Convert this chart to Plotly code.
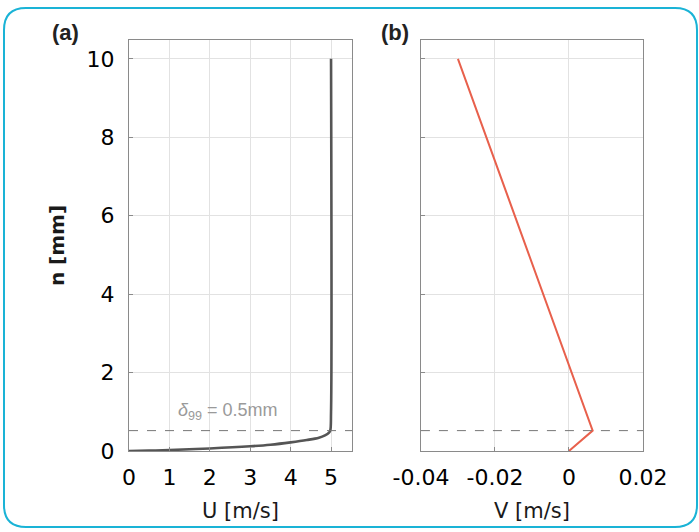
import plotly.graph_objects as go
from plotly.subplots import make_subplots

# ---- data ----
u_vals = [0, 0.5, 1.0, 2.0, 3.0, 3.5, 4.0, 4.4, 4.7, 4.85, 4.95, 4.98, 5.0, 5.0]
u_n = [0, 0.01, 0.025, 0.065, 0.12, 0.16, 0.22, 0.28, 0.34, 0.40, 0.47, 0.52, 1.0, 10.0]

v_vals = [0.0, 0.0064, -0.030]
v_n = [0.0, 0.52, 10.0]

delta99 = 0.52
u_ticks = [0, 1, 2, 3, 4, 5]
v_ticks = [-0.04, -0.02, 0, 0.02]
v_tick_labels = ["-0.04", "-0.02", "0", "0.02"]
n_ticks = [0, 2, 4, 6, 8, 10]

W, H = 699, 532
ML, MR, MT, MB = 129, 56, 40, 81

fig = make_subplots(rows=1, cols=2, shared_yaxes=True, horizontal_spacing=0.134,
                    column_widths=[0.4339, 0.432])

fig.add_trace(go.Scatter(x=u_vals, y=u_n, mode="lines", line=dict(color="#555555", width=2.6),
                         line_shape="spline", showlegend=False), row=1, col=1)
fig.add_trace(go.Scatter(x=v_vals, y=v_n, mode="lines", line=dict(color="#e8604c", width=2),
                         showlegend=False), row=1, col=2)

FONT = "DejaVu Sans, Arial, sans-serif"
tickfont = dict(family=FONT, size=22, color="#000000")
titlefont = dict(family=FONT, size=21, color="#1a1a1a")
axcommon = dict(showline=True, linecolor="#8a8a8a", linewidth=1.2, mirror=True,
                showgrid=True, gridcolor="#e2e2e2", gridwidth=1, zeroline=False,
                ticks="inside", ticklen=4, tickcolor="#8a8a8a", tickfont=tickfont)

fig.update_xaxes(axcommon)
fig.update_yaxes(axcommon)
fig.update_xaxes(range=[0, 5.52], tickvals=u_ticks, ticklabelstandoff=6,
                 title=dict(text="U [m/s]", font=titlefont, standoff=14), row=1, col=1)
fig.update_xaxes(range=[-0.04, 0.02], tickvals=v_ticks, ticktext=v_tick_labels, ticklabelstandoff=6,
                 title=dict(text="V [m/s]", font=titlefont, standoff=14), row=1, col=2)
fig.update_yaxes(range=[0, 10.48], tickvals=n_ticks, ticklabelstandoff=9,
                 title=dict(text="<b>n [mm]</b>", font=dict(family=FONT, size=20, color="#1a1a1a"),
                            standoff=16),
                 row=1, col=1)
fig.update_yaxes(range=[0, 10.48], tickvals=n_ticks, showticklabels=False, row=1, col=2)

# dashed delta99 lines
for xr in ["x domain", "x2 domain"]:
    fig.add_shape(type="line", xref=xr, yref="y", x0=0, x1=1, y0=delta99, y1=delta99,
                  line=dict(color="#777777", width=1, dash="dash"))

fig.add_annotation(x=2.45, y=1.0, xref="x", yref="y", text="<i>δ</i><sub>99</sub> = 0.5mm",
                   showarrow=False, font=dict(family="Liberation Sans, Arial, sans-serif",
                                              size=18, color="#9a9a9a"))

# panel labels
pw = W - ML - MR
ph = H - MT - MB
def px2paper(px, py):
    return (px - ML) / pw, (H - MB - py) / ph

ax_, ay_ = px2paper(65, 33)
bx_, by_ = px2paper(395, 33)
for lbl, (xx, yy) in [("(a)", (ax_, ay_)), ("(b)", (bx_, by_))]:
    fig.add_annotation(x=xx, y=yy, xref="paper", yref="paper", text="<b>" + lbl + "</b>",
                       xanchor="center", yanchor="middle",
                       showarrow=False, font=dict(family="Liberation Sans, Arial, sans-serif",
                                                 size=22, color="#222222"))

# rounded border
x0p, y0p, x1p, y1p, r = 4, 8, 697, 527, 22
def P(px, py):
    a, b = px2paper(px, py)
    return f"{a:.5f},{b:.5f}"
path = (f"M {P(x0p + r, y0p)} L {P(x1p - r, y0p)} Q {P(x1p, y0p)} {P(x1p, y0p + r)} "
        f"L {P(x1p, y1p - r)} Q {P(x1p, y1p)} {P(x1p - r, y1p)} "
        f"L {P(x0p + r, y1p)} Q {P(x0p, y1p)} {P(x0p, y1p - r)} "
        f"L {P(x0p, y0p + r)} Q {P(x0p, y0p)} {P(x0p + r, y0p)} Z")
fig.add_shape(type="path", xref="paper", yref="paper", path=path,
              line=dict(color="#1ab3d6", width=2), layer="below")

fig.update_layout(width=W, height=H, margin=dict(l=ML, r=MR, t=MT, b=MB),
                  paper_bgcolor="white", plot_bgcolor="white")

fig.write_html("out.html", config={"displayModeBar": False},
               post_script="document.body.style.margin='0';document.body.style.overflow='hidden';")
